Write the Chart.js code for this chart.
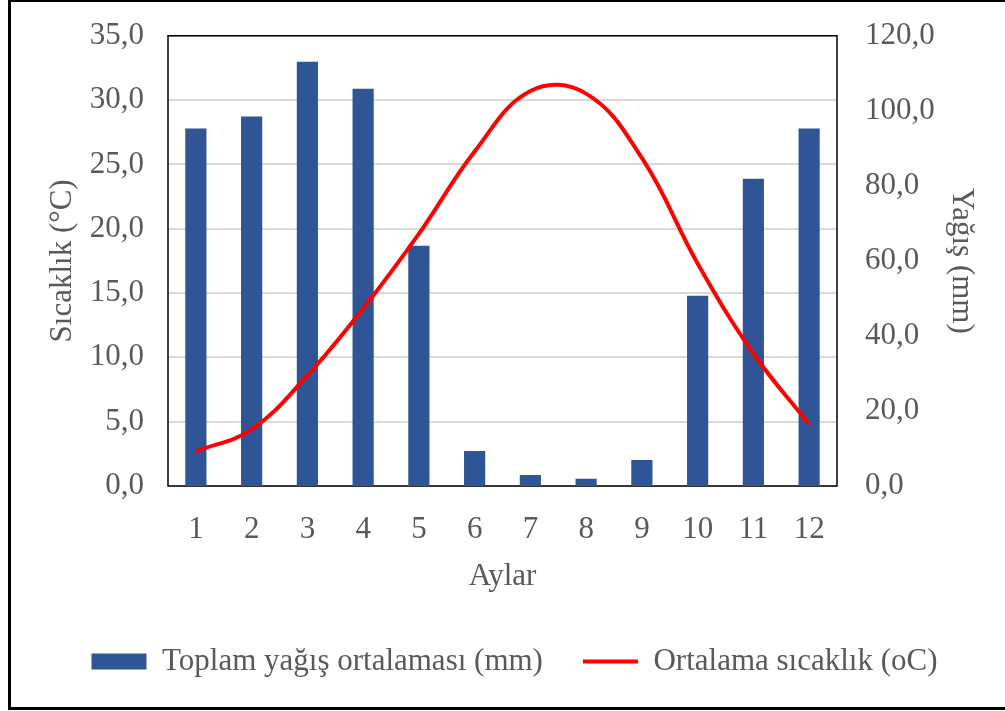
<!DOCTYPE html>
<html>
<head>
<meta charset="utf-8">
<script src="https://cdn.jsdelivr.net/npm/chart.js@4.4.1/dist/chart.umd.min.js"></script>
<style>
  html, body { margin: 0; padding: 0; background: #fff; }
  #wrap { position: relative; width: 1005px; height: 711px; }
  #frame {
    position: absolute; left: 8px; top: 0; width: 1000px; height: 705px;
    border-top: 2px solid #000; border-left: 3px solid #000; border-bottom: 3px solid #000;
    pointer-events: none;
  }
</style>
</head>
<body>
<div id="wrap">
  <canvas id="chart" width="1005" height="711"></canvas>
  <div id="frame"></div>
</div>
<script>
// months on the x axis
const months = ['1', '2', '3', '4', '5', '6', '7', '8', '9', '10', '11', '12'];
// precipitation, mm (bars, right axis)
const rainfall = [95.3, 98.5, 113.1, 105.9, 64.0, 9.3, 2.9, 1.9, 6.9, 50.7, 81.9, 95.3];
// mean temperature, oC (line, left axis)
const temperature = [2.7, 4.4, 8.6, 13.8, 19.6, 26.0, 30.7, 30.5, 25.5, 17.3, 10.3, 4.8];

const seriesNames = ['Toplam yağış ortalaması (mm)', 'Ortalama sıcaklık (oC)'];

const FONT = '"Liberation Serif", "Times New Roman", serif';
const SIZE = 31;
const GREY = '#595959';
const comma = v => Number(v).toFixed(1).replace('.', ',');

// black frame round the plot area
const plotBorder = {
  id: 'plotBorder',
  beforeDatasetsDraw(chart) {
    const a = chart.chartArea;
    const ctx = chart.ctx;
    ctx.save();
    ctx.strokeStyle = '#000';
    ctx.lineWidth = 1.5;
    ctx.strokeRect(a.left, a.top, a.right - a.left, a.bottom - a.top);
    ctx.restore();
  }
};

// legend sits a little right of centre in the original
const nudgeLegend = {
  id: 'nudgeLegend',
  afterLayout(chart) {
    chart.legend.left += 12;
    chart.legend.right += 12;
  }
};

new Chart(document.getElementById('chart'), {
  type: 'bar',
  data: {
    labels: months,
    datasets: [{
      type: 'bar',
      label: seriesNames[0],
      data: rainfall,
      yAxisID: 'y1',
      backgroundColor: '#2f5597',
      borderWidth: 0,
      barPercentage: 1,
      categoryPercentage: 0.38,
      pointStyle: 'rect',
      order: 1
    }, {
      type: 'line',
      label: seriesNames[1],
      data: temperature,
      yAxisID: 'y',
      borderColor: '#ff0000',
      backgroundColor: '#ff0000',
      borderWidth: 4,
      pointRadius: 0,
      tension: 0.4,
      pointStyle: 'line',
      order: 0
    }]
  },
  options: {
    responsive: false,
    animation: false,
    layout: { padding: { top: 34, left: 0, right: 0, bottom: 24 } },
    scales: {
      x: {
        offset: true,
        grid: { display: false, drawTicks: false },
        border: { display: false },
        ticks: { color: GREY, font: { family: FONT, size: SIZE }, padding: 25, maxRotation: 0 },
        title: { display: true, text: 'Aylar', color: GREY, font: { family: FONT, size: SIZE }, padding: { top: 9, bottom: 11 } },
        afterFit: s => { s.height = 120; }
      },
      y: {
        position: 'left',
        min: 0, max: 35,
        ticks: { stepSize: 5, color: GREY, font: { family: FONT, size: SIZE, lineHeight: 0.5 }, padding: 24, callback: comma },
        grid: { color: '#d9d9d9', lineWidth: 2, drawTicks: false },
        border: { display: false },
        title: { display: true, text: 'Sıcaklık (°C)', color: GREY, font: { family: FONT, size: SIZE }, padding: { top: 44, bottom: 0 } },
        afterFit: s => { s.width = 168; }
      },
      y1: {
        position: 'right',
        min: 0, max: 120,
        ticks: { stepSize: 20, color: GREY, font: { family: FONT, size: SIZE, lineHeight: 0.5 }, padding: 28, callback: comma },
        grid: { display: false, drawTicks: false },
        border: { display: false },
        title: { display: true, text: 'Yağış (mm)', color: GREY, font: { family: FONT, size: SIZE }, padding: { top: 25, bottom: 0 } },
        afterFit: s => { s.width = 168; }
      }
    },
    plugins: {
      legend: {
        position: 'bottom',
        labels: {
          color: GREY,
          font: { family: FONT, size: SIZE },
          usePointStyle: true,
          pointStyleWidth: 55,
          boxHeight: 16,
          padding: 40,
          sort: (a, b) => a.datasetIndex - b.datasetIndex
        }
      },
      tooltip: { enabled: false }
    }
  },
  plugins: [plotBorder, nudgeLegend]
});
</script>
</body>
</html>
